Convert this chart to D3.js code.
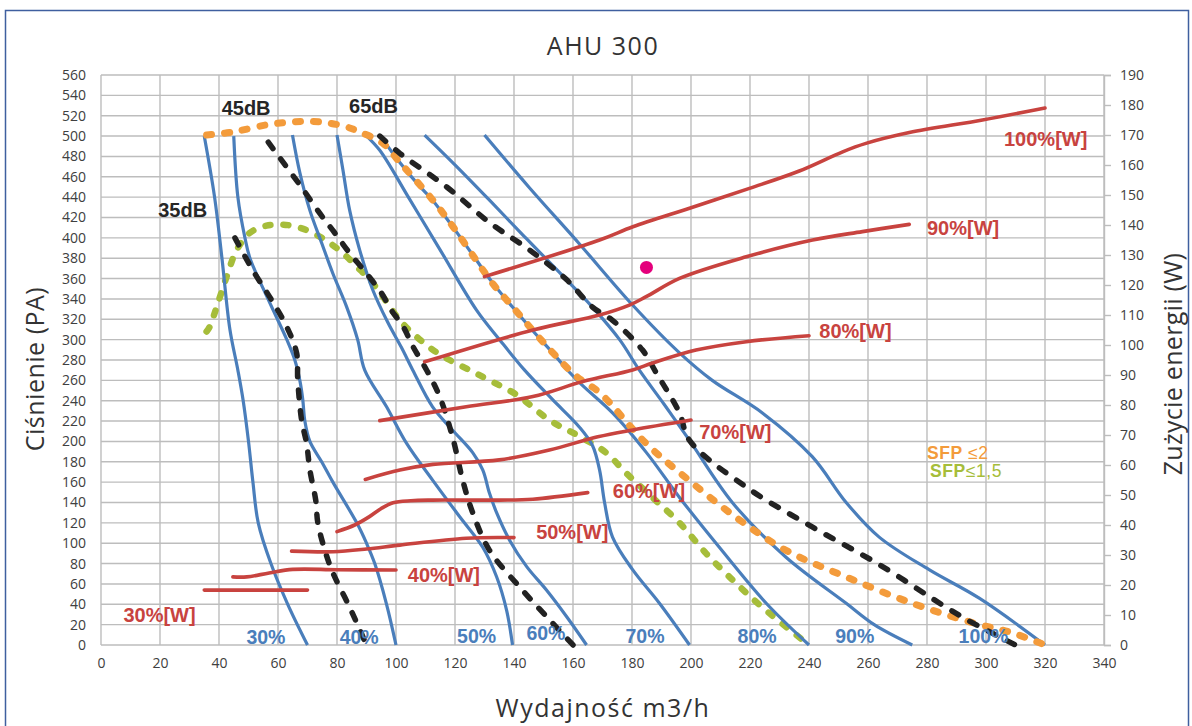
<!DOCTYPE html>
<html><head><meta charset="utf-8">
<script src="https://cdn.jsdelivr.net/npm/d3@7/dist/d3.min.js"></script>
<style>
html,body{margin:0;padding:0;background:#fff;}
svg{display:block;}
</style></head>
<body>
<svg id="c" width="1192" height="726"></svg>
<script>
// ---------- DATA ----------
const title = "AHU 300";
const xTicks = d3.range(0, 341, 20);
const yTicks = d3.range(0, 561, 20);
const yRightTicks = d3.range(0, 191, 10);

// fan speed curves [flow m3/h, pressure Pa]
const speed30 = [[35,500],[38.5,440],[41,380],[43.7,310],[46.4,270],[48.2,240],[50,200],[51.5,160],[53.3,120],[57.6,80],[63.3,40],[70,0]];
const speed40 = [[45,500],[46.4,440],[48.8,400],[50.5,380],[56.6,340],[63,300],[65.7,280],[67.4,260],[68.4,241],[69.1,220],[70.8,200],[74.8,180],[78.6,160],[86.7,120],[90,100],[92.8,80],[96.8,40],[100,0]];
const speed50 = [[64.9,501],[67.4,464],[70.8,427],[74.8,395],[78.6,365],[83.3,332],[87,300],[89.4,270],[96.8,234],[103.6,198],[112.4,162],[121.6,126],[129.4,96],[134.1,67],[137.5,34],[139.5,0]];
const speed60 = [[80,501],[82,467],[84.3,427],[87.7,388],[92.1,349],[97.2,317],[101.9,292],[105.7,270],[112.4,234],[119.2,211],[126,189],[129.4,172],[131.7,149],[134.1,130],[138.5,103],[144.3,77],[151,54],[157.8,28],[164.6,0]];
const speed70 = [[89.7,501],[94.5,486],[104.6,438],[114.8,389],[127.3,329],[135.1,300],[143.6,270],[153.1,241],[162.2,214],[166.6,196],[169,172],[170.7,140],[173.4,106],[180.2,74],[189.3,41],[199.5,0]];
const speed80 = [[94.5,501],[101.3,474],[107,454],[112.4,437],[119.2,411],[127.3,378],[132.7,356],[139.5,332],[146.3,309],[153.1,287],[158.8,268],[163.2,255],[173.4,228],[184.9,189],[196.1,145],[209.6,96],[225.5,41],[240,0]];
const speed90 = [[109.7,501],[119.9,472],[131.7,437],[143.6,401],[155.4,366],[166.6,332],[175.8,300],[182.5,270],[191,236],[199.5,201],[214,140],[232.3,86],[252.6,41],[262.1,20],[275,0]];
const speed100 = [[130,501],[145.3,449],[162.2,394],[180.2,334],[196.1,287],[207.2,260],[224.2,228],[241.1,185],[252.6,140],[263.8,106],[280.7,74],[297.7,46],[320,0]];
const speedNames = ["30%","40%","50%","60%","70%","80%","90%","100%"];

// noise curves [flow, pressure]
const noise35 = [[45.4,400],[51.5,368],[57.8,339],[62.9,313],[66.3,287],[66.7,260],[68,221],[69.7,198],[70.8,172],[72.8,142],[73.5,120],[75.9,93],[78.6,71],[84.3,37],[90,0]];
const noise45 = [[56.7,494],[60,481],[67.4,452],[74.2,424],[79.2,405],[84.3,385],[90,365],[95,346],[98.4,329],[102.4,313],[105.8,293],[110.4,270],[114.8,244],[119.2,204],[122.6,162],[126,130],[131.7,93],[141.9,57],[151,28],[160,0]];
const noise65 = [[94.5,500],[101.3,483],[117.2,450],[131.7,415],[145.3,388],[157.8,359],[166.6,332],[173.4,319],[183.5,290],[188.3,267],[196.1,228],[199.5,201],[218.8,155],[241.1,116],[263.8,79],[286.5,37],[295.3,22],[310,0]];

// SFP limit curves [flow, pressure]
const sfp2 = [[35.8,501],[44.7,504],[56.1,511],[65.1,514],[74.2,514],[83.2,509],[87.7,504],[95.5,493],[101.3,474],[103.5,467],[112.5,437],[119.3,411],[127.2,378],[132.8,355],[139.6,332],[146.4,309],[153.2,287],[161.1,264],[169,248],[184.8,198],[200.5,159],[216.4,123],[232.2,93],[252.5,67],[275,41],[295.3,22],[308.8,12],[320,0]];
const sfp15 = [[35.8,308],[36.9,313],[39.2,332],[42.6,362],[46,388],[50.5,405],[56.1,412],[61.7,413],[67.4,410],[73,403],[77.5,395],[82,385],[86.6,372],[91.1,359],[95.6,342],[101.3,319],[106.9,303],[112.5,290],[118.2,280],[125,270],[131.7,260],[140.8,246],[152,221],[162.2,205],[171.2,189],[178,169],[186.9,145],[196.1,120],[205.1,90],[213,67],[224.2,37],[240,0]];

// power consumption curves [flow, W] (right axis)
const power30 = [[35,18.3],[70,18.3]];
const power40 = [[44.7,22.7],[49.4,22.7],[57,24],[65,25.2],[80,25.1],[100,25]];
const power50 = [[64.6,31.3],[78.7,31.1],[90,32],[101.3,33.3],[123.8,35.6],[140,35.8]];
const power60 = [[80,37.8],[86,40],[91,42.8],[95,45.5],[99,47.4],[105,48.1],[112.5,48.3],[135,48.3],[146.4,48.6],[165,50.8]];
const power70 = [[89.6,55.2],[101.3,58.3],[112.5,60.2],[135,61.7],[152,65],[168.4,69.4],[180.3,71.7],[200,75]];
const power80 = [[94.5,74.8],[123.8,79.4],[146.4,82.8],[163.3,87.8],[180.2,91.7],[187,94],[201.7,98.3],[218.7,101.1],[240,103.1]];
const power90 = [[109.7,94.4],[146.4,105],[169,110],[179.1,113.3],[184.8,116.1],[196.1,122.2],[218.7,129.4],[241.2,135],[258.1,137.8],[274,140.2]];
const power100 = [[130,122.8],[169,135],[180.3,139.4],[199.5,145.6],[219.8,152.2],[236.7,158],[251.4,164.4],[259.3,167.2],[274,170.8],[298.8,175],[320,179]];
const powerNames = ["30%[W]","40%[W]","50%[W]","60%[W]","70%[W]","80%[W]","90%[W]","100%[W]"];

// operating point [flow, pressure]
const operatingPoint = [[184.9,371]];

// annotation anchors (data units: flow, pressure)
const speedLabelPos = [[49.3,1],[80.9,1],[120.7,1.7],[144.2,4.9],[177.8,1.7],[215.8,2],[248.9,2.3],[290.7,2.3]];
const powerLabelPos = [[7.6,22.9],[104,62.2],[147.5,104.1],[173.5,144.4],[202.8,202.4],[243.5,301.6],[280,402.8],[306.1,490.2]];
const noiseLabels = ["35dB","45dB","65dB"];
const noiseLabelPos = [[19.4,420.2],[40.9,520.7],[84.1,522.4]];
const sfpLabelPos = [[280,183.2],[281,164.8]];

// ---------- CHART ----------
const svg = d3.select("#c");
const L = 101, R = 1104, T = 75, B = 645;
const x = d3.scaleLinear().domain([0,340]).range([L,R]);
const y = d3.scaleLinear().domain([0,560]).range([B,T]);
const yR = d3.scaleLinear().domain([0,190]).range([B,T]);

const C = {blue:"#4a7ebb", red:"#c8433f", orange:"#f39b3b", green:"#a6bd3a", black:"#222222", grid:"#bdbdbd", text:"#404040", pink:"#e4007c"};

// frame
svg.append("rect").attr("x",5.5).attr("y",10.5).attr("width",1183).attr("height",740)
  .attr("fill","#fff").attr("stroke","#3f5f9f").attr("stroke-width",1.5);

// title
svg.append("text").attr("x",603).attr("y",55).attr("text-anchor","middle")
  .attr("font-family","'Open Sans', sans-serif").attr("font-size",25).attr("letter-spacing",1.5)
  .attr("fill","#333").text(title);

// gridlines
const grid = svg.append("g");
grid.selectAll("line.v").data(xTicks).join("line")
  .attr("x1",d=>x(d)).attr("x2",d=>x(d)).attr("y1",T).attr("y2",B)
  .attr("stroke",C.grid).attr("stroke-width",1.4);
grid.selectAll("line.h").data(yTicks).join("line")
  .attr("x1",L).attr("x2",R).attr("y1",d=>y(d)).attr("y2",d=>y(d))
  .attr("stroke",C.grid).attr("stroke-width",1.4);

// axes
const tickFont = "'Open Sans', sans-serif";
const ax = svg.append("g").attr("transform",`translate(0,${B})`)
  .call(d3.axisBottom(x).tickValues(xTicks).tickSize(0).tickPadding(13));
const ay = svg.append("g").attr("transform",`translate(${L},0)`)
  .call(d3.axisLeft(y).tickValues(yTicks).tickSize(0).tickPadding(15));
const ayr = svg.append("g").attr("transform",`translate(${R},0)`)
  .call(d3.axisRight(yR).tickValues(yRightTicks).tickSize(7).tickPadding(9));
[ax,ay,ayr].forEach(g=>{
  g.select(".domain").attr("stroke",C.grid).attr("stroke-width",1.4);
  g.selectAll(".tick line").attr("stroke",C.grid).attr("stroke-width",1.4);
  g.selectAll("text").attr("font-family",tickFont).attr("font-size",14).attr("fill",C.text);
});
ax.select(".domain").remove();
ay.select(".domain").remove();

// axis titles
const titleFont = "'Open Sans', sans-serif";
svg.append("text").attr("transform","translate(44,369) rotate(-90)").attr("text-anchor","middle")
  .attr("font-family",titleFont).attr("font-size",25).attr("letter-spacing",0.5).attr("fill","#333").text("Ciśnienie (PA)");
svg.append("text").attr("x",603).attr("y",717).attr("text-anchor","middle")
  .attr("font-family",titleFont).attr("font-size",25).attr("letter-spacing",1.5).attr("fill","#333").text("Wydajność m3/h");
svg.append("text").attr("transform","translate(1182,364) rotate(-90)").attr("text-anchor","middle")
  .attr("font-family",titleFont).attr("font-size",25).attr("letter-spacing",0.3).attr("fill","#333").text("Zużycie energii (W)");

const plot = svg.append("g");
const curve = d3.curveCatmullRom.alpha(0.5);
const lineP = d3.line().x(d=>x(d[0])).y(d=>y(d[1])).curve(curve);
const lineW = d3.line().x(d=>x(d[0])).y(d=>yR(d[1])).curve(curve);

// SFP 1,5 curve
plot.append("path").attr("d",lineP(sfp15)).attr("fill","none").attr("stroke",C.green)
  .attr("stroke-width",6.5).attr("stroke-linecap","round").attr("stroke-dasharray","5,13");

// blue speed curves
const speeds = [speed30,speed40,speed50,speed60,speed70,speed80,speed90,speed100];
plot.selectAll("path.speed").data(speeds).join("path").attr("class","speed")
  .attr("d",lineP).attr("fill","none").attr("stroke",C.blue).attr("stroke-width",3.2);

// SFP 2 curve
plot.append("path").attr("d",lineP(sfp2)).attr("fill","none").attr("stroke",C.orange)
  .attr("stroke-width",7).attr("stroke-linecap","round").attr("stroke-dasharray","5,13");

// noise curves
const noise = [noise35,noise45,noise65];
plot.selectAll("path.noise").data(noise).join("path").attr("class","noise")
  .attr("d",lineP).attr("fill","none").attr("stroke",C.black).attr("stroke-width",5.5)
  .attr("stroke-linecap","round").attr("stroke-dasharray","8,13");

// power curves
const powers = [power30,power40,power50,power60,power70,power80,power90,power100];
plot.selectAll("path.power").data(powers).join("path").attr("class","power")
  .attr("d",lineW).attr("fill","none").attr("stroke",C.red).attr("stroke-width",3.6).attr("stroke-linecap","round");

// operating point
plot.selectAll("circle.op").data(operatingPoint).join("circle")
  .attr("cx",d=>x(d[0])).attr("cy",d=>y(d[1])).attr("r",6.5).attr("fill",C.pink);

// labels
const lblFont = "'Liberation Sans', Arial, sans-serif";
svg.selectAll("text.sp").data(speedNames).join("text").attr("class","sp")
  .attr("x",(d,i)=>x(speedLabelPos[i][0])).attr("y",(d,i)=>y(speedLabelPos[i][1]))
  .attr("font-family",lblFont).attr("font-weight","bold").attr("font-size",19.5).attr("fill",C.blue).text(d=>d);
svg.selectAll("text.pw").data(powerNames).join("text").attr("class","pw")
  .attr("x",(d,i)=>x(powerLabelPos[i][0])).attr("y",(d,i)=>y(powerLabelPos[i][1]))
  .attr("font-family",lblFont).attr("font-weight","bold").attr("font-size",20).attr("fill",C.red).text(d=>d);
svg.selectAll("text.nz").data(noiseLabels).join("text").attr("class","nz")
  .attr("x",(d,i)=>x(noiseLabelPos[i][0])).attr("y",(d,i)=>y(noiseLabelPos[i][1]))
  .attr("font-family",lblFont).attr("font-weight","bold").attr("font-size",20).attr("fill","#262626").text(d=>d);

const s1 = svg.append("text").attr("x",x(sfpLabelPos[0][0])).attr("y",y(sfpLabelPos[0][1]))
  .attr("font-family",lblFont).attr("font-size",17.5).attr("letter-spacing",0.6).attr("fill",C.orange);
s1.append("tspan").attr("font-weight","bold").text("SFP ");
s1.append("tspan").text("≤2");
const s2 = svg.append("text").attr("x",x(sfpLabelPos[1][0])).attr("y",y(sfpLabelPos[1][1]))
  .attr("font-family",lblFont).attr("font-size",17.5).attr("letter-spacing",0.6).attr("fill",C.green);
s2.append("tspan").attr("font-weight","bold").text("SFP");
s2.append("tspan").text("≤1,5");
</script>
</body></html>
